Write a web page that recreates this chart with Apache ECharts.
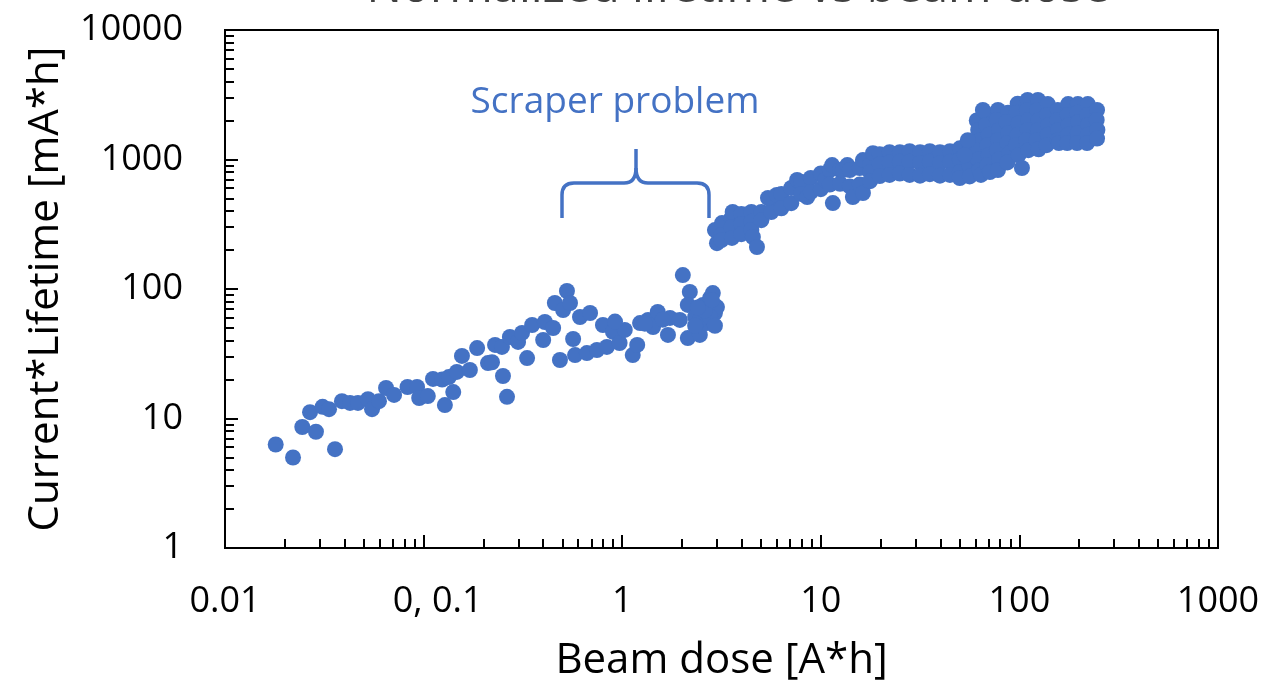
<!DOCTYPE html>
<html>
<head>
<meta charset="utf-8">
<script src="https://cdn.jsdelivr.net/npm/echarts@6/dist/echarts.min.js"></script>
<style>
html,body{margin:0;padding:0;background:#fff;}
#chart{width:1266px;height:689px;}
</style>
</head>
<body>
<div id="chart"></div>
<script>
// ---- data (x: beam dose [A*h], y: current*lifetime [mA*h]) ----
const earlyDose = [
  [0.018,6.3],[0.022,5.0],[0.0245,8.6],[0.0287,7.9],[0.0268,11.2],[0.031,12.3],[0.0334,11.8],
  [0.0358,5.8],[0.0388,13.6],[0.0426,13.2],[0.0467,13.2],[0.0525,14.1],[0.055,11.8],[0.0596,13.6],
  [0.0647,17.2],[0.071,15.2],[0.083,17.5],[0.0927,17.5],[0.095,14.4],[0.105,14.9],[0.1115,20.2],
  [0.124,20],[0.128,12.7],[0.134,20.9],[0.141,16],[0.147,22.9],[0.156,30.4],[0.171,23.7],
  [0.186,35],[0.211,26.8],[0.221,27.2],[0.229,37],[0.248,35.7],[0.251,21.3],[0.263,14.7],
  [0.272,42.6],[0.299,39],[0.313,45.8],[0.332,29.3],[0.352,52.7],[0.40,40.4],[0.408,55.6],[0.449,50]
];
const scraperDose = [
  [0.458,78],[0.504,68.8],[0.527,96.5],[0.546,78],[0.486,28.3],[0.566,41.1],[0.579,30.9],
  [0.613,60.8],[0.689,65.3],[0.664,32],[0.746,33.8],[0.80,52.7],[0.837,35.7],[0.899,46.6],
  [0.97,38.3],[1.03,48.3],[1.13,30.9],[1.19,37],[1.23,54.6],[1.35,57.7],[1.43,50.9],[1.51,66.4],
  [1.70,44.2],[1.74,59.8],[1.95,57.7],[2.02,128],[2.19,94.9],[2.14,75.3],[2.14,41.8],[2.33,60.8],
  [2.46,44.2],[2.55,75.3],[2.77,85],[2.86,93],[2.93,65.3],[2.67,54.6],[3.0,72.5],[2.46,57.7],
  [2.77,61],[2.6,68],[2.33,52],[2.93,52],[2.83,82],[2.4,72],[1.6,58],[1.3,54],[0.92,56]
];
const afterFixDose = [
  [3.0,226],[2.93,285],[3.18,323],[3.16,261],[3.16,239],[3.55,354],[3.55,300],[3.57,248],[3.6,393],
  [3.98,380],[3.98,318],[3.98,265],[4.47,393],[4.47,330],[4.47,286],[4.55,252],[4.77,211],
  [5.02,393],[5.02,340],[5.63,487],[5.63,393],[5.42,505],[6.0,532],[6.33,542],[6.33,420],
  [7.1,603],[7.1,460],[7.6,695],[7.95,670],[7.95,542],[8.54,513],[8.9,720],[8.9,560],
  [10,780],[10,590],[10.5,695],[11.1,830],[11.1,640],[11.4,906],[11.5,461],[12.5,830],[12.5,650],
  [12.9,830],[13.6,906],[14,830],[14,620],[14.5,513],[15.7,860],[15.7,640],[16.3,990],[16.3,551],
  [17.7,920],[17.7,800],[17.7,680],[18.3,1120],[19.8,1100],[19.8,920],[19.8,745],
  [22.2,1140],[22.2,950],[22.2,760],[25,1140],[25,960],[25,780],[28,1160],[28,960],[28,760],
  [31.6,1140],[31.6,940],[31.6,750],[35.4,1160],[35.4,960],[35.4,770],[39.8,1140],[39.8,940],
  [39.8,750],[44.7,1160],[44.7,960],[44.7,760],[50.1,1220],[50.1,1000],[50.1,800],[50.1,720],
  [56.2,1300],[56.2,1080],[56.2,880],[56.2,740],[63,1350],[63,1100],[63,900]
];
const highDose = [
  [61,2000],[62,1690],[63,1410],[61,1180],[62,1000],[63,830],[64,760],
  [69.5,2210],[68,1850],[70,1550],[69,1290],[70,1080],[69,906],[71,800],
  [78,2410],[77,2020],[79,1690],[78,1410],[77,1180],[79,1000],[78,830],
  [87.6,2300],[86,1950],[88,1600],[87,1340],[89,1120],[87,950],
  [98,2700],[97,2300],[99,1900],[98,1550],[96,1290],[99,1080],
  [110,2880],[109,2400],[111,2020],[110,1690],[108,1410],[111,1180],[103,860],
  [124,2880],[123,2400],[125,2020],[124,1690],[122,1410],[125,1200],
  [139,2680],[138,2210],[140,1850],[139,1550],[137,1290],
  [156,2410],[155,2020],[157,1690],[156,1410],[158,1340],
  [176,2680],[175,2210],[177,1850],[176,1550],[174,1340],
  [197,2680],[196,2300],[198,1950],[197,1600],[195,1340],
  [221,2680],[220,2210],[222,1850],[221,1550],[219,1340],
  [246,2410],[245,2020],[247,1690],[246,1450],
  [55,1410],[53,1080],[65.5,2410]
];

// ---- axis tick labels ----
const xTickLabels = {'-2':'0.01','-1':'   0, 0.1','0':'1','1':'10','2':'100','3':'1000'};
const yTickLabels = {'0':'1','1':'10','2':'100','3':'1000','4':'10000'};
const minorMultipliers = [2,3,4,5,6,7,8,9];

function minorTicks(lo, hi){
  const out = [];
  for (let e = lo; e < hi; e++) {
    minorMultipliers.forEach(m => out.push(m * Math.pow(10, e)));
  }
  return out;
}
const xMinor = minorTicks(-2, 3);
const yMinor = minorTicks(0, 4);

const FONT = 'Open Sans';
const BLUE = '#4472C4';

const chart = echarts.init(document.getElementById('chart'), null, {renderer:'canvas'});
const lineStyle = {color:'#000', width:2};
const braceStyle = {stroke:BLUE, lineWidth:3.5, fill:null};

chart.setOption({
  animation:false,
  backgroundColor:'#fff',
  grid:{left:225, right:48, top:30, bottom:141, show:true, borderColor:'#000', borderWidth:2},
  xAxis:[
    {
      type:'log', logBase:10, min:0.01, max:1000, position:'bottom',
      axisLine:{show:true, lineStyle},
      axisTick:{show:true, inside:true, length:13, lineStyle},
      axisLabel:{
        fontFamily:FONT, fontSize:36, color:'#000', margin:36,
        formatter:v => xTickLabels[String(Math.round(Math.log10(v)))] || ''
      },
      splitLine:{show:false},
      name:'Beam dose [A*h]', nameLocation:'middle', nameGap:92,
      nameTextStyle:{fontFamily:FONT, fontSize:42, color:'#000'}
    },
    {
      type:'log', logBase:10, min:0.01, max:1000, position:'bottom',
      axisLine:{show:false},
      axisTick:{show:true, inside:true, length:9, lineStyle, customValues:xMinor},
      axisLabel:{show:false},
      splitLine:{show:false}
    }
  ],
  yAxis:[
    {
      type:'log', logBase:10, min:1, max:10000, position:'left',
      axisLine:{show:true, lineStyle},
      axisTick:{show:true, inside:true, length:13, lineStyle},
      axisLabel:{
        fontFamily:FONT, fontSize:36, color:'#000', margin:42,
        formatter:v => yTickLabels[String(Math.round(Math.log10(v)))] || ''
      },
      splitLine:{show:false},
      name:'Current*Lifetime [mA*h]', nameLocation:'middle', nameGap:158,
      nameTextStyle:{fontFamily:FONT, fontSize:42, color:'#000'}
    },
    {
      type:'log', logBase:10, min:1, max:10000, position:'left',
      axisLine:{show:false},
      axisTick:{show:true, inside:true, length:9, lineStyle, customValues:yMinor},
      axisLabel:{show:false},
      splitLine:{show:false}
    }
  ],
  series:[{
    type:'scatter',
    xAxisIndex:0, yAxisIndex:0,
    symbol:'circle', symbolSize:16,
    itemStyle:{color:BLUE, opacity:1},
    data:[].concat(earlyDose, scraperDose, afterFixDose, highDose)
  }],
  graphic:[
    {
      type:'text',
      style:{text:'Normalized lifetime vs beam dose', fontFamily:FONT, fontSize:47,
             fill:'#404040', align:'center', verticalAlign:'middle', x:738, y:-11}
    },
    {
      type:'text',
      style:{text:'Scraper problem', fontFamily:FONT, fontSize:37, fill:BLUE,
             x:615, y:102, align:'center', verticalAlign:'middle'}
    },
    {type:'line', shape:{x1:562,y1:218,x2:562,y2:195}, style:braceStyle},
    {type:'bezierCurve', shape:{x1:562,y1:195,cpx1:562,cpy1:183,x2:574,y2:183}, style:braceStyle},
    {type:'line', shape:{x1:574,y1:183,x2:624,y2:183}, style:braceStyle},
    {type:'bezierCurve', shape:{x1:624,y1:183,cpx1:636,cpy1:183,x2:636,y2:168}, style:braceStyle},
    {type:'line', shape:{x1:636,y1:168,x2:636,y2:149}, style:braceStyle},
    {type:'bezierCurve', shape:{x1:636,y1:168,cpx1:636,cpy1:183,x2:648,y2:183}, style:braceStyle},
    {type:'line', shape:{x1:648,y1:183,x2:697,y2:183}, style:braceStyle},
    {type:'bezierCurve', shape:{x1:697,y1:183,cpx1:709,cpy1:183,x2:709,y2:195}, style:braceStyle},
    {type:'line', shape:{x1:709,y1:195,x2:709,y2:218}, style:braceStyle}
  ]
});
</script>
</body>
</html>
